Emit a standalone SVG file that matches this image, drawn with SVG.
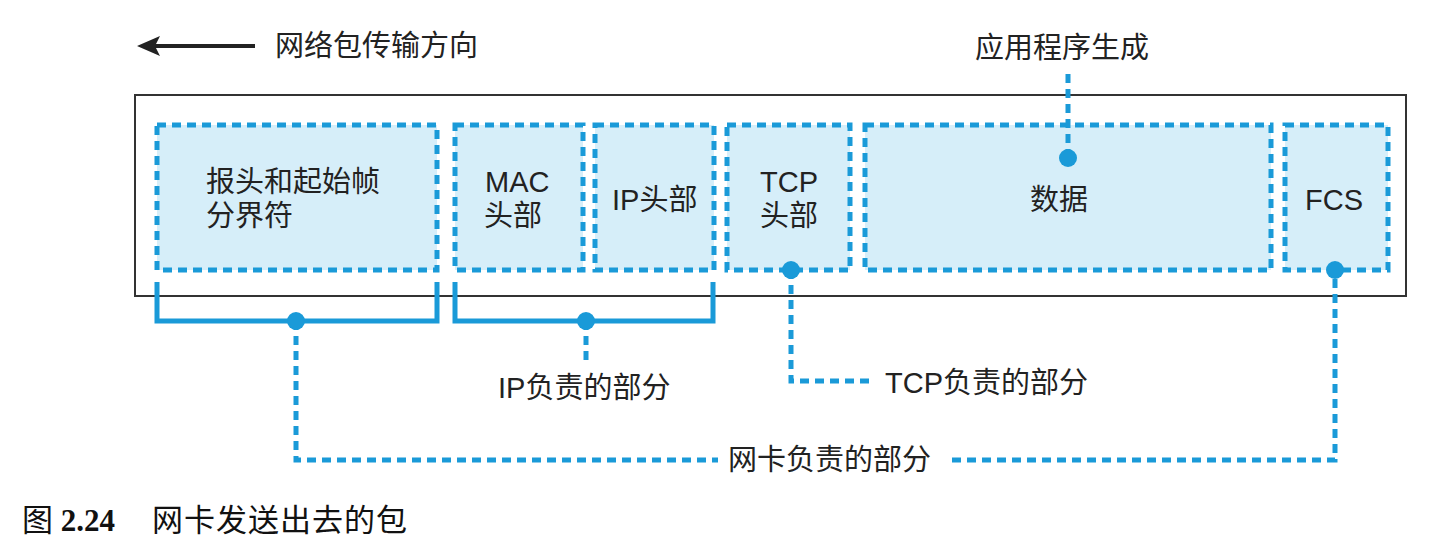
<svg xmlns="http://www.w3.org/2000/svg" width="1444" height="550" viewBox="0 0 1444 550">
  <style>
    .lbl { font-family: "Liberation Sans", "Noto Sans CJK SC", sans-serif; font-size: 29px; fill: #222; }
    .seg { fill: #d6eef9; stroke: #1a9ad8; stroke-width: 5; stroke-dasharray: 9 6; }
    .dash { fill: none; stroke: #1a9ad8; stroke-width: 5; stroke-dasharray: 9 6; }
    .solid { fill: none; stroke: #1a9ad8; stroke-width: 5; }
    .dot { fill: #1a9ad8; }
    .cap { font-family: "Liberation Serif", "Noto Sans CJK SC", serif; font-size: 31px; fill: #111; }
  </style>
  <rect width="1444" height="550" fill="#fff"/>

  <!-- direction legend -->
  <g id="direction">
    <line x1="255" y1="46" x2="150" y2="46" stroke="#222" stroke-width="4"/>
    <path d="M137,46 L160,36 L155,46 L160,56 Z" fill="#222"/>
    <text class="lbl" x="275" y="56">网络包传输方向</text>
  </g>

  <!-- frame outline -->
  <rect id="frame" x="135" y="95" width="1271" height="201" fill="#fff" stroke="#333" stroke-width="2"/>

  <!-- packet fields -->
  <g id="preamble">
    <rect class="seg" x="157" y="125" width="280" height="145"/>
    <text class="lbl" x="206" y="192">报头和起始帧<tspan x="206" dy="34">分界符</tspan></text>
  </g>
  <g id="mac-header">
    <rect class="seg" x="455" y="125" width="128" height="145"/>
    <text class="lbl" x="485" y="192">MAC<tspan x="484" dy="34">头部</tspan></text>
  </g>
  <g id="ip-header">
    <rect class="seg" x="595" y="125" width="119" height="145"/>
    <text class="lbl" x="612" y="210">IP头部</text>
  </g>
  <g id="tcp-header">
    <rect class="seg" x="727" y="125" width="123" height="145"/>
    <text class="lbl" x="760" y="192">TCP<tspan x="760" dy="34">头部</tspan></text>
  </g>
  <g id="data">
    <rect class="seg" x="865" y="125" width="406" height="145"/>
    <text class="lbl" x="1059" y="210" text-anchor="middle">数据</text>
  </g>
  <g id="fcs">
    <rect class="seg" x="1285" y="125" width="103" height="145"/>
    <text class="lbl" x="1334" y="210" text-anchor="middle">FCS</text>
  </g>

  <!-- connectors -->
  <g id="connectors">
    <!-- braces under fields -->
    <path class="solid" d="M157,282 V321 H437 V282"/>
    <path class="solid" d="M455,282 V321 H713 V282"/>
    <!-- application data origin -->
    <line class="dash" x1="1068" y1="158" x2="1068" y2="68"/>
    <!-- IP part -->
    <line class="dash" x1="586" y1="321" x2="586" y2="366"/>
    <!-- TCP part -->
    <path class="dash" d="M791,270 V381 H872"/>
    <!-- NIC part -->
    <path class="dash" d="M296,321 V460 H718"/>
    <path class="dash" d="M952,460 H1335 V270"/>
    <circle class="dot" cx="1068" cy="158" r="9"/>
    <circle class="dot" cx="296" cy="321" r="9"/>
    <circle class="dot" cx="586" cy="321" r="9"/>
    <circle class="dot" cx="791" cy="270" r="9"/>
    <circle class="dot" cx="1335" cy="270" r="9"/>
  </g>

  <!-- annotations -->
  <g id="labels">
    <text class="lbl" x="975" y="58">应用程序生成</text>
    <text class="lbl" x="498" y="398">IP负责的部分</text>
    <text class="lbl" x="885" y="393">TCP负责的部分</text>
    <text class="lbl" x="728" y="470">网卡负责的部分</text>
  </g>

  <!-- caption -->
  <text class="cap" x="22" y="531">图 <tspan font-weight="bold">2.24</tspan><tspan x="152" letter-spacing="1">网卡发送出去的包</tspan></text>
</svg>
